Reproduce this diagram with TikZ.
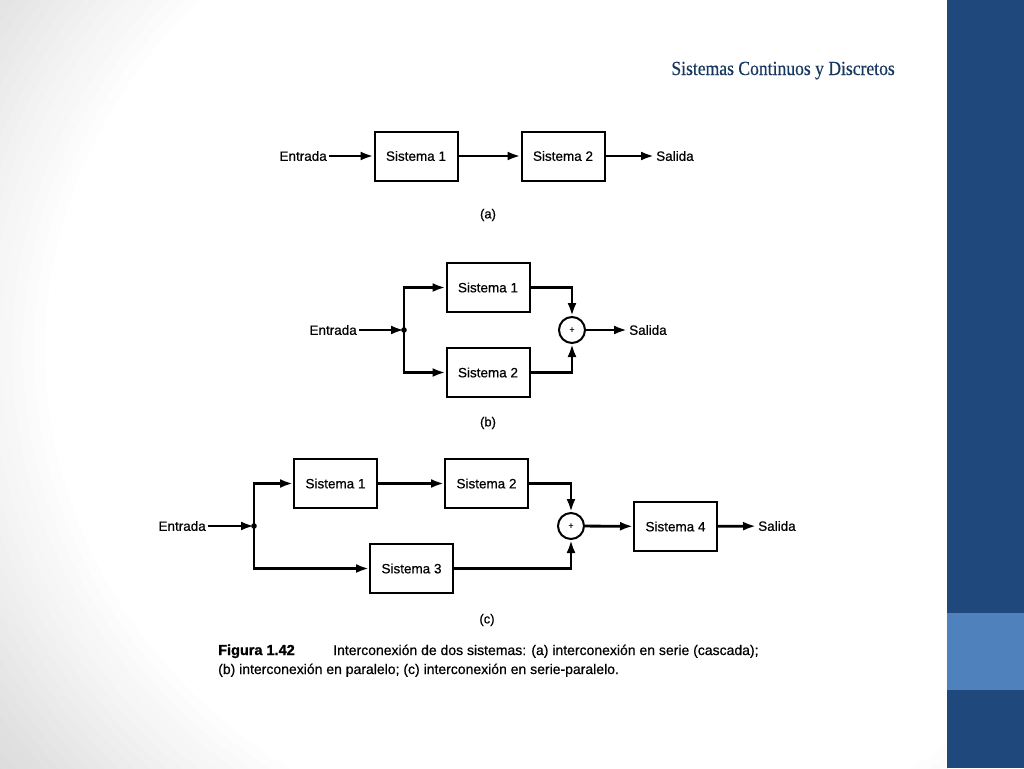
\documentclass[tikz,border=0pt]{standalone}
\usepackage{fontspec}
\usepackage{xcolor}
\usepackage{tikz}
\usetikzlibrary{arrows.meta, positioning, calc, shapes.geometric}

\newfontfamily\diagfont[FakeBold=0.5]{Liberation Sans}
\newfontfamily\figfont[FakeBold=1.2]{Liberation Sans Bold}
\newfontfamily\titlefont[FakeStretch=0.88, FakeBold=0.4]{Liberation Serif}

\definecolor{azuloscuro}{RGB}{31,73,125}
\definecolor{azulclaro}{RGB}{79,129,189}
\definecolor{titulo}{RGB}{23,55,94}

\tikzset{
    caja/.style={draw, line width=2pt, minimum width=83pt, minimum height=49pt,
        inner sep=0pt, font=\diagfont\fontsize{13.5}{16}\selectfont},
    texto/.style={inner sep=2pt, font=\diagfont\fontsize{13.5}{16}\selectfont},
    sumador/.style={draw, circle, line width=2pt, minimum size=26pt, inner sep=0pt,
        font=\diagfont\fontsize{9}{10}\selectfont},
    flecha/.style={line width=2.8pt, -{Latex[length=13pt,width=9pt]}},
    rotulo/.style={font=\diagfont\fontsize{13}{15}\selectfont}
}

\begin{document}
\begin{tikzpicture}[x=1pt, y=-1pt]
    \useasboundingbox (0,0) rectangle (1024,768);

    % fondo
    \begin{scope}
        \clip (0,0) rectangle (947,768);
        \fill[black!15] (0,0) rectangle (947,768);
        \foreach \k [evaluate=\k as \f using 1.4-0.02*\k,
                     evaluate=\k as \g using 15-15*\k/20] in {0,...,20}
            \fill[black!\g] (600,350) ellipse [x radius=555*\f, y radius=505*\f];
    \end{scope}
    \fill[azuloscuro] (947,0) rectangle (1024,768);
    \fill[azulclaro] (947,613) rectangle (1024,690);

    % titulo
    \node[anchor=base east, inner sep=0pt, text=titulo,
        font=\titlefont\fontsize{20}{24}\selectfont] (tit) at (895,75)
        {Sistemas Continuos y Discretos};

    % (a) serie
    \node[texto, anchor=east] (ea) at (329,156) {Entrada};
    \node[caja] (s1a) at (416,156) {Sistema 1};
    \node[caja] (s2a) at (563,156) {Sistema 2};
    \node[texto, anchor=west] (sa) at (654,156) {Salida};
    \draw[flecha] (ea) -- (s1a);
    \draw[flecha] (s1a) -- (s2a);
    \draw[flecha] (s2a) -- (sa);
    \node[rotulo] (la) at (488,215) {(a)};

    % (b) paralelo
    \node[texto, anchor=east] (eb) at (359,330) {Entrada};
    \coordinate (jb) at (404,330);
    \node[caja] (s1b) at (488,287.5) {Sistema 1};
    \node[caja] (s2b) at (488,372.5) {Sistema 2};
    \node[sumador] (sumb) at (572,330) {+};
    \node[texto, anchor=west] (sb) at (627,330) {Salida};
    \draw[flecha] (eb) -- (jb);
    \fill (jb) circle (2.8);
    \draw[flecha] (jb) |- (s1b);
    \draw[flecha] (jb) |- (s2b);
    \draw[flecha] (s1b) -| (sumb);
    \draw[flecha] (s2b) -| (sumb);
    \draw[flecha] (sumb) -- (sb);
    \node[rotulo] (lb) at (488,423) {(b)};

    % (c) serie-paralelo
    \node[texto, anchor=east] (ec) at (208,526) {Entrada};
    \coordinate (jc) at (254,526);
    \node[caja] (s1c) at (335.5,483.5) {Sistema 1};
    \node[caja] (s2c) at (486.5,483.5) {Sistema 2};
    \node[caja] (s3c) at (411.5,568.5) {Sistema 3};
    \node[sumador] (sumc) at (571,526) {+};
    \node[caja] (s4c) at (675.5,526.5) {Sistema 4};
    \node[texto, anchor=west] (sc) at (756,526) {Salida};
    \draw[flecha] (ec) -- (jc);
    \fill (jc) circle (2.8);
    \draw[flecha] (jc) |- (s1c);
    \draw[flecha] (jc) |- (s3c);
    \draw[flecha] (s1c) -- (s2c);
    \draw[flecha] (s2c) -| (sumc);
    \draw[flecha] (s3c) -| (sumc);
    \draw[flecha] (sumc) -- (s4c);
    \draw[flecha] (s4c) -- (sc);
    \node[rotulo] (lc) at (487,620) {(c)};

    % pie de figura
    \node[anchor=base west, inner sep=0pt,
        font=\figfont\fontsize{14.5}{17}\selectfont] (fig) at (218,655) {Figura 1.42};
    \node[anchor=base west, inner sep=0pt,
        font=\diagfont\fontsize{14}{17}\selectfont] (cap1) at (333,655)
        {Interconexión de dos sistemas: (a) interconexión en serie (cascada);};
    \node[anchor=base west, inner sep=0pt,
        font=\diagfont\fontsize{14}{17}\selectfont] (cap2) at (218,674)
        {(b) interconexión en paralelo; (c) interconexión en serie-paralelo.};
\end{tikzpicture}
\end{document}
